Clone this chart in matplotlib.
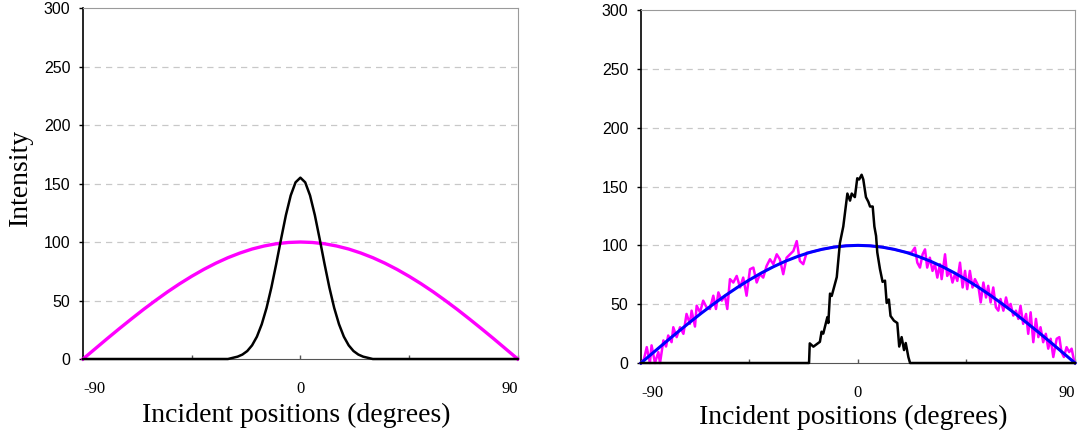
import matplotlib
matplotlib.use("Agg")
import matplotlib.pyplot as plt
from matplotlib.ticker import FixedLocator

# smooth cosine-shaped distribution (read every 5 degrees)
cos_x = [-90, -85, -80, -75, -70, -65, -60, -55, -50, -45, -40, -35, -30, -25, -20, -15, -10, -5,
         0, 5, 10, 15, 20, 25, 30, 35, 40, 45, 50, 55, 60, 65, 70, 75, 80, 85, 90]
cos_y = [0, 8.7, 17.4, 25.9, 34.2, 42.3, 50, 57.4, 64.3, 70.7, 76.6, 81.9, 86.6, 90.6, 94, 96.6, 98.5, 99.6,
         100, 99.6, 98.5, 96.6, 94, 90.6, 86.6, 81.9, 76.6, 70.7, 64.3, 57.4, 50, 42.3, 34.2, 25.9, 17.4, 8.7, 0]

# left panel: narrow peak
peak_x = [-90, -30, -28, -26, -24, -22, -20, -18, -16, -14, -12, -10, -8, -6, -4, -2,
          0, 2, 4, 6, 8, 10, 12, 14, 16, 18, 20, 22, 24, 26, 28, 30, 90]
peak_y = [0, 0, 1.0, 2.0, 3.8, 6.8, 11.7, 19.1, 29.7, 43.7, 61.2, 81.3, 102.5, 122.9, 139.8, 151,
          155, 151, 139.8, 122.9, 102.5, 81.3, 61.2, 43.7, 29.7, 19.1, 11.7, 6.8, 3.8, 2.0, 1.0, 0, 0]

# right panel: noisy measured distribution
noisy_x = [-90.0, -88.8, -87.6, -86.3, -85.6, -84.2, -82.8, -82.1, -80.7, -79.6, -78.7, -77.3, -76.6,
           -75.2, -73.8, -72.4, -71.1, -69.7, -69.0, -67.6, -66.9, -65.5, -64.2, -62.8, -61.4, -60.0,
           -58.9, -57.9, -56.5, -55.2, -54.2, -53.1, -51.7, -50.3, -48.9, -47.6, -46.2, -44.8, -43.4,
           -42.0, -40.7, -39.3, -37.9, -36.5, -35.1, -33.7, -32.4, -31.0, -29.6, -28.2, -26.8, -25.4,
           -24.1, -22.7, -21.3, -19.9, -15, -10, -5, 0, 5, 10, 15, 20, 22.2,
           23.6, 24.6, 25.7, 26.8, 27.8, 28.7, 29.8, 30.9, 31.9, 32.9, 34.0, 34.7, 36.1, 37.0, 38.1,
           39.2, 40.2, 41.2, 42.3, 43.4, 44.4, 45.3, 46.4, 47.5, 48.5, 49.9, 50.9, 52.0, 53.1, 54.0,
           55.0, 56.1, 57.2, 58.2, 59.1, 60.3, 61.4, 62.3, 63.3, 64.4, 65.5, 66.5, 67.4, 68.5, 69.7,
           70.6, 71.6, 72.7, 73.8, 74.8, 75.7, 76.8, 77.9, 78.9, 79.9, 81.0, 82.4, 83.5, 84.4, 85.4,
           86.5, 87.6, 88.6, 89.6, 90.0]
noisy_y = [0, 3, 13.5, 0, 15, 0, 9.3, 0, 19.2, 14, 23.4, 17.7, 30.4,
           22, 30.4, 24.8, 41.7, 33.3, 44.5, 31, 48.7, 43.1, 53, 47.3, 45.9, 57.2,
           45.9, 60, 53, 57.2, 45.9, 71.3, 68.4, 74, 64.2, 72.6, 57.2, 79.7, 81.1,
           68.4, 75.5, 72.6, 82.5, 88.2, 84, 92.4, 88.2, 75.5, 89.5, 92.4, 95.2, 103.6,
           86.7, 84, 93.7, 94, 96.6, 98.5, 99.6, 100, 99.6, 98.5, 96.6, 94, 93.8,
           98, 85.3, 81.1, 92.4, 96.6, 81.1, 89.5, 78.3, 84, 72.6, 84, 71.3, 92.4, 74, 78.3,
           68.4, 75.5, 69.8, 85.3, 64.2, 78.3, 62.8, 78.3, 64.2, 71.3, 65.6, 51.5, 68.4, 55.7, 65.6,
           51.5, 64.2, 47.3, 44.5, 54.4, 44.5, 55.7, 47.3, 50.2, 40.3, 44.5, 37.5, 48.7, 33.3, 41.7,
           24.8, 43.1, 17.7, 37.5, 22, 30.4, 17.7, 24.8, 12.2, 20.6, 5.1, 20.6, 22, 9.3, 5.1,
           13.5, 9.3, 12.2, 2, 0]

# right panel: noisy peak
npeak_x = [-90, -20.3, -20.0, -18.5, -15.8, -15.1, -14.4, -12.7, -12.3, -11.6, -10.9, -8.8, -7.5,
           -6.1, -4.4, -3.3, -2.6, -1.3, -0.3, 0.5, 1.5, 2.2, 3.3, 4.3, 5.0, 6.1, 6.8, 7.5, 8.0,
           9.1, 10.2, 11.2, 11.9, 12.8, 13.5, 14.9, 16.3, 17.1, 18.1, 19.1, 19.8, 20.9, 21.6, 90]
npeak_y = [0, 0, 16.7, 13.9, 18, 26.6, 25, 39, 34, 59, 57, 73, 102,
           116, 144, 138, 144, 141, 157, 156, 160, 156, 141, 137, 133, 133, 116, 108, 94,
           80, 69, 70, 51, 54, 40, 36, 34, 14, 22, 11, 17, 5, 0, 0]

y_ticks = [0, 50, 100, 150, 200, 250, 300]
x_ticks = [-90, 0, 90]
x_labels = ["-90", "0", "90"]

SANS = "Liberation Sans"
SERIF = "Liberation Serif"
MAGENTA = "#ff00ff"
BLUE = "#0000ff"


def style_axes(ax):
    ax.set_xlim(-90, 90)
    ax.set_ylim(0, 300)
    ax.set_yticks(y_ticks)
    ax.set_yticklabels([str(v) for v in y_ticks], family=SANS, fontsize=11.5)
    ax.tick_params(axis="y", direction="out", length=3, width=1, pad=6, colors="black")
    ax.xaxis.set_major_locator(FixedLocator(x_ticks))
    ax.xaxis.set_minor_locator(FixedLocator([-45, 45]))
    ax.set_xticklabels(x_labels, family=SERIF, fontsize=12)
    for lab, ha in zip(ax.get_xticklabels(), ["left", "center", "right"]):
        lab.set_ha(ha)
    ax.tick_params(axis="x", which="both", direction="in", length=3, width=1,
                   color="#555555", pad=16)
    for v in y_ticks[1:-1]:
        ax.axhline(v, color="#c8c8c8", linestyle=(0, (5, 4)), linewidth=0.9, zorder=0)
    ax.spines["top"].set_color("#9a9a9a")
    ax.spines["right"].set_color("#9a9a9a")
    ax.spines["left"].set_color("black")
    ax.spines["left"].set_linewidth(1.2)
    ax.spines["bottom"].set_color("#555555")
    ax.set_xlabel("Incident positions (degrees)", family=SERIF, fontsize=20)
    ax.xaxis.label.set_va("center")


fig = plt.figure(figsize=(10.84, 4.36), dpi=100)
ax1 = fig.add_axes([0.0766, 0.1766, 0.401, 0.805])
ax2 = fig.add_axes([0.5913, 0.1674, 0.4004, 0.8096])

ax1.plot(cos_x, cos_y, color=MAGENTA, linewidth=2.4, zorder=3, clip_on=False)
ax1.plot(peak_x, peak_y, color="black", linewidth=1.8, zorder=4, clip_on=False)
style_axes(ax1)
ax1.set_ylabel("Intensity", family=SERIF, fontsize=20)
ax1.yaxis.set_label_coords(-0.145, 0.516)
ax1.yaxis.label.set_va("center")
ax1.xaxis.set_label_coords(0.49, -0.16)

ax2.plot(noisy_x, noisy_y, color=MAGENTA, linewidth=1.8, zorder=3, clip_on=False)
ax2.plot(cos_x, cos_y, color=BLUE, linewidth=2.2, zorder=4, clip_on=False)
ax2.plot(npeak_x, npeak_y, color="black", linewidth=1.8, zorder=5, clip_on=False)
style_axes(ax2)
ax2.xaxis.set_label_coords(0.49, -0.153)

fig.savefig("out.png", dpi=100)
